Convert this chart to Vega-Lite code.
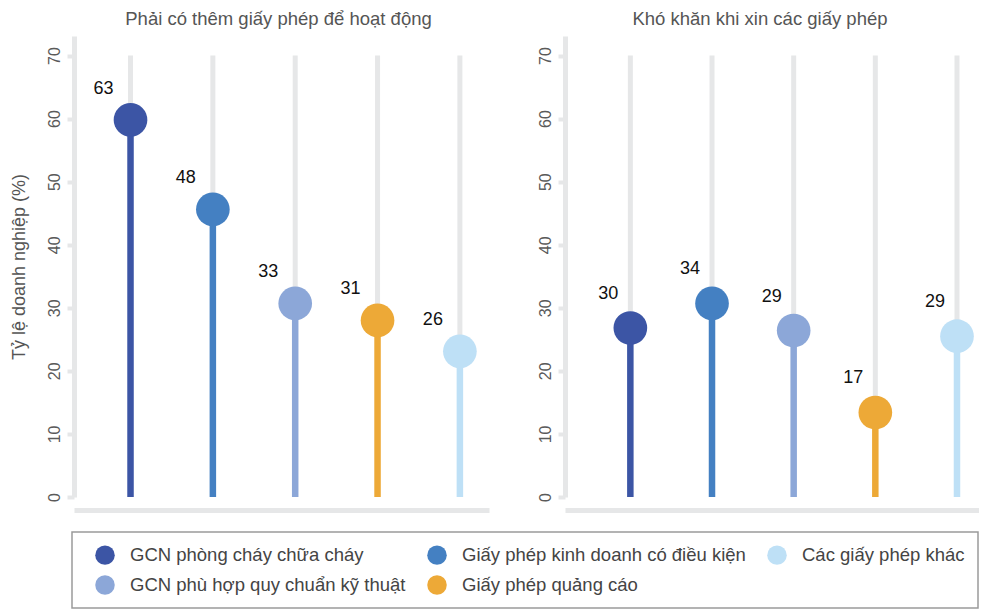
{
  "$schema": "https://vega.github.io/schema/vega-lite/v6.json",
  "padding": {"left": 10, "top": 9, "right": 0, "bottom": 0},
  "background": "white",
  "datasets": {
    "p1": [
      {"category": "GCN phòng cháy chữa cháy", "value": 59.8, "label": 63},
      {"category": "Giấy phép kinh doanh có điều kiện", "value": 45.6, "label": 48},
      {"category": "GCN phù hợp quy chuẩn kỹ thuật", "value": 30.7, "label": 33},
      {"category": "Giấy phép quảng cáo", "value": 28.0, "label": 31},
      {"category": "Các giấy phép khác", "value": 23.1, "label": 26}
    ],
    "p2": [
      {"category": "GCN phòng cháy chữa cháy", "value": 26.8, "label": 30},
      {"category": "Giấy phép kinh doanh có điều kiện", "value": 30.7, "label": 34},
      {"category": "GCN phù hợp quy chuẩn kỹ thuật", "value": 26.4, "label": 29},
      {"category": "Giấy phép quảng cáo", "value": 13.4, "label": 17},
      {"category": "Các giấy phép khác", "value": 25.5, "label": 29}
    ]
  },
  "spacing": 48,
  "hconcat": [
    {
      "width": 415,
      "height": 461,
      "data": {"name": "p1"},
      "title": {"text": "Phải có thêm giấy phép để hoạt động", "frame": "group", "dx": -3},
      "encoding": {
        "x": {
          "field": "category", "type": "nominal",
          "sort": ["GCN phòng cháy chữa cháy", "Giấy phép kinh doanh có điều kiện", "GCN phù hợp quy chuẩn kỹ thuật", "Giấy phép quảng cáo", "Các giấy phép khác"],
          "scale": {"type": "point", "padding": 0.52, "align": 0.66},
          "axis": {"labels": false, "ticks": false, "title": null, "offset": 13}
        }
      },
      "layer": [
        {
          "mark": {"type": "rule", "color": "#e6e7e8", "strokeWidth": 5},
          "encoding": {
            "y": {"datum": 0, "type": "quantitative", "title": "Tỷ lệ doanh nghiệp (%)", "scale": {"domain": [0, 73.1], "nice": false}, "axis": {"values": [0, 10, 20, 30, 40, 50, 60, 70]}},
            "y2": {"datum": 70}
          }
        },
        {
          "mark": {"type": "rule", "strokeWidth": 6.5},
          "encoding": {
            "y": {"field": "value", "type": "quantitative", "title": "Tỷ lệ doanh nghiệp (%)", "scale": {"domain": [0, 73.1], "nice": false}},
            "y2": {"datum": 0},
            "color": {"field": "category", "type": "nominal",
              "scale": {"domain": ["GCN phòng cháy chữa cháy", "Giấy phép kinh doanh có điều kiện", "Các giấy phép khác", "GCN phù hợp quy chuẩn kỹ thuật", "Giấy phép quảng cáo"], "range": ["#3c55a5", "#4480c2", "#bee0f6", "#8ca7d8", "#eda937"]}}
          }
        },
        {
          "mark": {"type": "circle", "size": 1134, "opacity": 1},
          "encoding": {
            "y": {"field": "value", "type": "quantitative", "title": "Tỷ lệ doanh nghiệp (%)", "scale": {"domain": [0, 73.1], "nice": false}},
            "color": {"field": "category", "type": "nominal",
              "scale": {"domain": ["GCN phòng cháy chữa cháy", "Giấy phép kinh doanh có điều kiện", "Các giấy phép khác", "GCN phù hợp quy chuẩn kỹ thuật", "Giấy phép quảng cáo"], "range": ["#3c55a5", "#4480c2", "#bee0f6", "#8ca7d8", "#eda937"]}}
          }
        },
        {
          "mark": {"type": "text", "dx": -27, "dy": -31, "fontSize": 18, "color": "#111111", "align": "center", "baseline": "middle"},
          "encoding": {
            "y": {"field": "value", "type": "quantitative", "title": "Tỷ lệ doanh nghiệp (%)", "scale": {"domain": [0, 73.1], "nice": false}},
            "text": {"field": "label", "type": "quantitative"}
          }
        }
      ]
    },
    {
      "width": 414,
      "height": 461,
      "data": {"name": "p2"},
      "title": {"text": "Khó khăn khi xin các giấy phép", "frame": "group", "dx": -12},
      "encoding": {
        "x": {
          "field": "category", "type": "nominal",
          "sort": ["GCN phòng cháy chữa cháy", "Giấy phép kinh doanh có điều kiện", "GCN phù hợp quy chuẩn kỹ thuật", "Giấy phép quảng cáo", "Các giấy phép khác"],
          "scale": {"type": "point", "padding": 0.535, "align": 0.748},
          "axis": {"labels": false, "ticks": false, "title": null, "offset": 13}
        }
      },
      "layer": [
        {
          "mark": {"type": "rule", "color": "#e6e7e8", "strokeWidth": 5},
          "encoding": {
            "y": {"datum": 0, "type": "quantitative", "title": null, "scale": {"domain": [0, 73.1], "nice": false}, "axis": {"values": [0, 10, 20, 30, 40, 50, 60, 70]}},
            "y2": {"datum": 70}
          }
        },
        {
          "mark": {"type": "rule", "strokeWidth": 6.5},
          "encoding": {
            "y": {"field": "value", "type": "quantitative", "title": null, "scale": {"domain": [0, 73.1], "nice": false}},
            "y2": {"datum": 0},
            "color": {"field": "category", "type": "nominal",
              "scale": {"domain": ["GCN phòng cháy chữa cháy", "Giấy phép kinh doanh có điều kiện", "Các giấy phép khác", "GCN phù hợp quy chuẩn kỹ thuật", "Giấy phép quảng cáo"], "range": ["#3c55a5", "#4480c2", "#bee0f6", "#8ca7d8", "#eda937"]}}
          }
        },
        {
          "mark": {"type": "circle", "size": 1134, "opacity": 1},
          "encoding": {
            "y": {"field": "value", "type": "quantitative", "title": null, "scale": {"domain": [0, 73.1], "nice": false}},
            "color": {"field": "category", "type": "nominal",
              "scale": {"domain": ["GCN phòng cháy chữa cháy", "Giấy phép kinh doanh có điều kiện", "Các giấy phép khác", "GCN phù hợp quy chuẩn kỹ thuật", "Giấy phép quảng cáo"], "range": ["#3c55a5", "#4480c2", "#bee0f6", "#8ca7d8", "#eda937"]}}
          }
        },
        {
          "mark": {"type": "text", "dx": -22, "dy": -34, "fontSize": 18, "color": "#111111", "align": "center", "baseline": "middle"},
          "encoding": {
            "y": {"field": "value", "type": "quantitative", "title": null, "scale": {"domain": [0, 73.1], "nice": false}},
            "text": {"field": "label", "type": "quantitative"}
          }
        }
      ]
    }
  ],
  "resolve": {"scale": {"color": "shared"}},
  "config": {
    "font": "Liberation Sans",
    "view": {"stroke": null},
    "title": {"fontSize": 18.5, "fontWeight": "normal", "color": "#555555", "offset": 8},
    "axisY": {"domainColor": "#e6e7e8", "domainWidth": 5, "tickColor": "#e6e7e8", "tickWidth": 4, "tickSize": 7, "labelFontSize": 16, "labelColor": "#5a5a5a", "labelAngle": -90, "labelAlign": "center", "labelBaseline": "bottom", "labelPadding": 5, "grid": false, "titleFontSize": 18, "titleFontWeight": "normal", "titleColor": "#555555", "titlePadding": 18},
    "axisX": {"domainColor": "#e6e7e8", "domainWidth": 5, "grid": false},
    "legend": {
      "orient": "none",
      "legendX": -2,
      "legendY": 496,
      "direction": "horizontal",
      "columns": 3,
      "title": null,
      "symbolType": "circle",
      "symbolSize": 380,
      "symbolStrokeWidth": 0,
      "symbolOpacity": 1,
      "labelFontSize": 18.5,
      "labelColor": "#444444",
      "labelLimit": 400,
      "padding": 13,
      "strokeColor": "#9a9a9a",
      "strokeWidth": 1.5,
      "symbolOffset": 10,
      "labelOffset": 15,
      "columnPadding": 11,
      "rowPadding": 10
    }
  }
}
